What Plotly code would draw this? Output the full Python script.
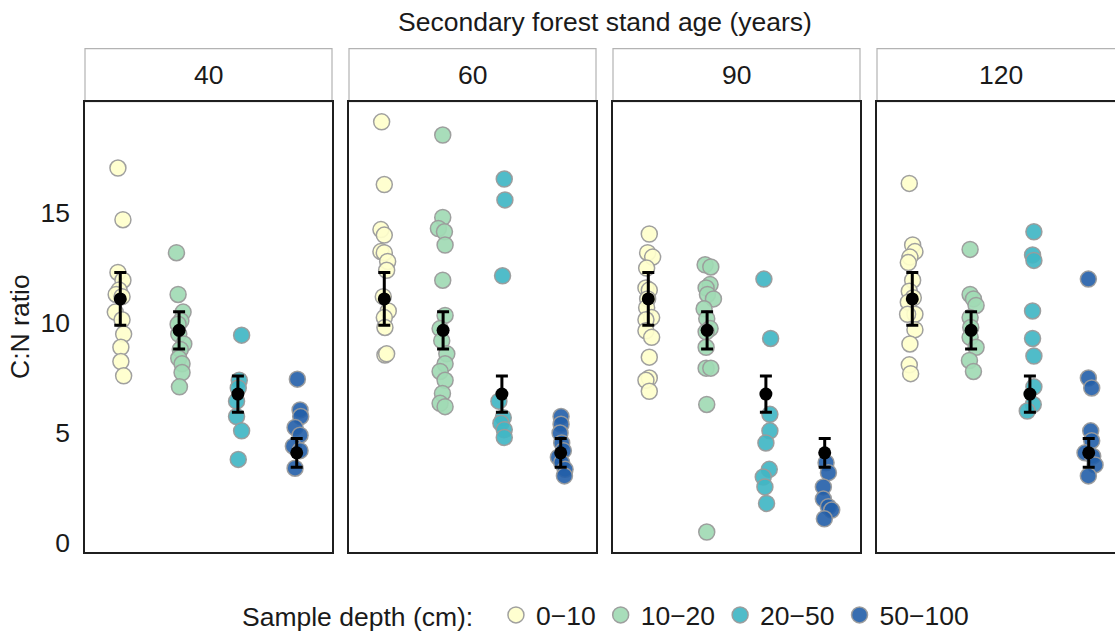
import plotly.graph_objects as go

# ---------------- data ----------------
ages = ["40", "60", "90", "120"]
depths = ["0\u221210", "10\u221220", "20\u221250", "50\u2212100"]

# C:N ratio of individual samples, one list per depth class
cn_40 = [
    [17.05, 14.7, 12.3, 11.95, 11.5, 11.3, 11.2, 10.5, 10.15, 9.5, 8.9, 8.25, 7.6],
    [13.2, 11.3, 10.5, 10.1, 9.95, 9.5, 9.05, 8.8, 8.4, 8.15, 7.75, 7.1],
    [9.45, 7.4, 7.05, 6.45, 5.75, 5.1, 3.8],
    [7.45, 6.05, 5.75, 5.25, 4.9, 4.4, 4.2, 3.4],
]
cn_60 = [
    [19.15, 16.3, 14.25, 14.0, 13.25, 13.2, 12.8, 12.4, 11.2, 10.55, 10.25, 9.8, 8.55, 8.6],
    [18.55, 14.8, 14.3, 14.15, 13.55, 11.95, 10.35, 9.75, 9.2, 8.6, 8.15, 7.8, 7.4, 6.8, 6.35, 6.2],
    [16.55, 15.6, 12.15, 6.45, 5.7, 5.45, 5.15, 4.8],
    [5.75, 5.4, 5.0, 4.55, 4.2, 3.9, 3.65, 3.35, 3.05],
]
cn_90 = [
    [14.05, 13.2, 13.0, 12.5, 11.6, 11.5, 11.1, 10.7, 10.25, 10.15, 9.65, 9.35, 8.45, 7.5, 7.4, 6.9],
    [12.65, 12.55, 11.75, 11.6, 11.3, 11.1, 10.65, 10.2, 9.75, 9.6, 8.9, 7.95, 7.95, 6.3, 0.5],
    [12.0, 9.3, 5.85, 5.1, 4.55, 3.35, 3.0, 2.55, 1.8],
    [3.65, 3.2, 2.55, 2.0, 1.65, 1.5, 1.1],
]
cn_120 = [
    [16.35, 13.55, 13.25, 13.0, 12.75, 11.95, 11.45, 11.15, 10.95, 10.4, 10.4, 9.7, 9.05, 8.1, 7.7],
    [13.35, 11.3, 11.1, 10.8, 10.25, 9.8, 9.35, 8.9, 8.3, 7.8],
    [14.15, 13.1, 12.85, 10.55, 9.3, 8.5, 7.1, 6.3, 6.0],
    [12.0, 7.5, 7.05, 5.1, 4.65, 4.1, 3.95, 3.55, 3.05],
]

# horizontal jitter of each sample (category units)
jit_40 = [
    [-0.04, 0.045, -0.04, 0.045, -0.02, -0.07, 0.03, -0.085, 0.03, 0.057, 0.01, 0.01, 0.057],
    [-0.045, -0.017, 0.068, 0.03, -0.017, -0.006, 0.08, 0.02, -0.006, 0.05, 0.05, 0.006],
    [0.063, 0.023, 0.006, -0.023, -0.023, 0.063, 0.006],
    [0.011, 0.057, 0.068, -0.028, 0.057, -0.057, 0.057, -0.028],
]
jit_60 = [
    [-0.045, 0, -0.057, 0, -0.057, 0, 0.057, 0.04, -0.017, 0.068, 0, 0.011, 0.011, 0.04],
    [-0.006, -0.006, -0.08, 0.023, 0.034, -0.006, 0.034, -0.051, -0.023, 0.063, 0.034, -0.051, 0.034, -0.011, -0.051, 0.034],
    [0.04, 0.051, 0.011, -0.051, 0.023, -0.017, 0.04, 0.04],
    [0.006, 0.006, -0.011, 0.017, 0.045, -0.04, 0.017, 0.074, 0.063],
]
jit_90 = [
    [0.017, -0.011, 0.074, -0.028, -0.04, 0.017, -0.011, -0.028, 0.057, -0.04, -0.04, 0.057, 0.017, 0.017, -0.04, 0.017],
    [-0.034, 0.063, 0.051, -0.017, 0.006, 0.108, -0.051, -0.006, 0.051, -0.017, -0.017, -0.017, 0.063, -0.006, -0.006],
    [-0.034, 0.08, 0.068, 0.068, 0, 0.057, -0.045, -0.017, 0.011],
    [0.023, 0.063, -0.023, -0.023, 0.063, 0.119, -0.006],
]
jit_120 = [
    [-0.051, 0.006, 0.045, -0.04, -0.068, 0.006, -0.051, 0.017, -0.068, 0.045, -0.08, 0.045, -0.04, -0.051, -0.028],
    [-0.017, -0.017, 0.04, 0.085, -0.017, -0.006, -0.017, 0.085, -0.028, 0.04],
    [0.068, 0.045, 0.068, 0.045, 0.045, 0.068, 0.068, 0.057, -0.045],
    [-0.006, -0.006, 0.051, 0.034, 0.051, -0.063, 0.068, 0.108, -0.006],
]

# mean and standard error per depth class
depth_mean = [11.1, 9.67, 6.77, 4.1]
depth_se = [1.2, 0.85, 0.82, 0.65]

cn_all = [cn_40, cn_60, cn_90, cn_120]
jit_all = [jit_40, jit_60, jit_90, jit_120]

# ---------------- styling ----------------
W, H = 1115, 643
FONT = "Liberation Sans, Arial, sans-serif"
FS = 26.5
colors = ["rgba(255,255,204,0.92)", "rgba(161,218,180,0.92)",
          "rgba(65,182,196,0.92)", "rgba(34,94,168,0.9)"]
panel_left = [85, 349, 613, 877]
panel_w = 247
plot_top, plot_bot = 103, 557
strip_top, strip_bot = 49, 102.5

def px_x(p):
    return p / W

def px_y(p):
    return 1 - p / H

fig = go.Figure()

unit_per_px = 4.2 / panel_w
for i, age in enumerate(ages):
    ax = "" if i == 0 else str(i + 1)
    for d in range(4):
        xs = [d + 1 + j for j in jit_all[i][d]]
        fig.add_trace(go.Scatter(
            x=xs, y=cn_all[i][d], mode="markers",
            xaxis="x" + ax, yaxis="y" + ax,
            name=depths[d], legendgroup=depths[d], showlegend=(i == 0),
            marker=dict(size=16, color=colors[d],
                        line=dict(color="rgba(155,155,155,0.95)", width=1.5)),
            hoverinfo="y",
        ))
    fig.add_trace(go.Scatter(
        x=[1, 2, 3, 4], y=depth_mean, mode="markers",
        xaxis="x" + ax, yaxis="y" + ax, showlegend=False,
        marker=dict(size=13, color="black"),
        error_y=dict(type="data", array=depth_se, color="black",
                     thickness=3, width=6),
    ))

    x0 = panel_left[i]
    x1 = min(x0 + panel_w, W)
    xrange_max = 0.4 + (x1 - x0) * unit_per_px
    last = (i == 3)
    fig.layout["xaxis" + ax] = dict(
        domain=[px_x(x0), px_x(x1)], range=[0.4, xrange_max],
        showgrid=False, zeroline=False, showticklabels=False, ticks="",
        showline=True, mirror=True, linecolor="#1f1f1f", linewidth=1.5,
        anchor="y" + ax, fixedrange=True,
    )
    fig.layout["yaxis" + ax] = dict(
        domain=[px_y(plot_bot), px_y(plot_top)], range=[-0.4, 20.05],
        showgrid=False, zeroline=False, ticks="",
        tickvals=[0, 5, 10, 15], showticklabels=(i == 0),
        tickfont=dict(size=FS, color="#1a1a1a", family=FONT),
        ticklabelstandoff=8,
        showline=True, mirror=(not last), linecolor="#1f1f1f", linewidth=1.5,
        anchor="x" + ax, fixedrange=True,
    )
    # facet strip
    fig.add_shape(type="rect", xref="paper", yref="paper",
                  x0=px_x(x0), x1=px_x(x0 + panel_w) if not last else px_x(W + 12),
                  y0=px_y(strip_bot), y1=px_y(strip_top),
                  line=dict(color="#b3b3b3", width=1.2), fillcolor="white",
                  layer="below")
    fig.add_annotation(text=age, xref="paper", yref="paper",
                       x=px_x(x0 + panel_w / 2), y=px_y(76),
                       showarrow=False, xanchor="center", yanchor="middle",
                       font=dict(size=FS, color="#1a1a1a", family=FONT))

fig.add_annotation(text="Secondary forest stand age (years)", xref="paper", yref="paper",
                   x=px_x(605), y=px_y(22), showarrow=False,
                   xanchor="center", yanchor="middle",
                   font=dict(size=FS, color="#1a1a1a", family=FONT))
fig.add_annotation(text="C:N ratio", xref="paper", yref="paper",
                   x=px_x(20), y=px_y(330), showarrow=False, textangle=-90,
                   xanchor="center", yanchor="middle",
                   font=dict(size=FS, color="#1a1a1a", family=FONT))

fig.update_layout(
    width=W, height=H,
    margin=dict(l=0, r=0, t=0, b=0),
    paper_bgcolor="white", plot_bgcolor="white",
    font=dict(family=FONT, size=FS, color="#1a1a1a"),
    legend=dict(orientation="h", x=px_x(240), y=px_y(621),
                xanchor="left", yanchor="middle",
                title=dict(text="Sample depth (cm):  ", side="left",
                           font=dict(size=FS, family=FONT)),
                font=dict(size=FS, family=FONT), itemwidth=30,
                bgcolor="rgba(0,0,0,0)"),
    showlegend=True,
)

fig.write_html("out.html")
